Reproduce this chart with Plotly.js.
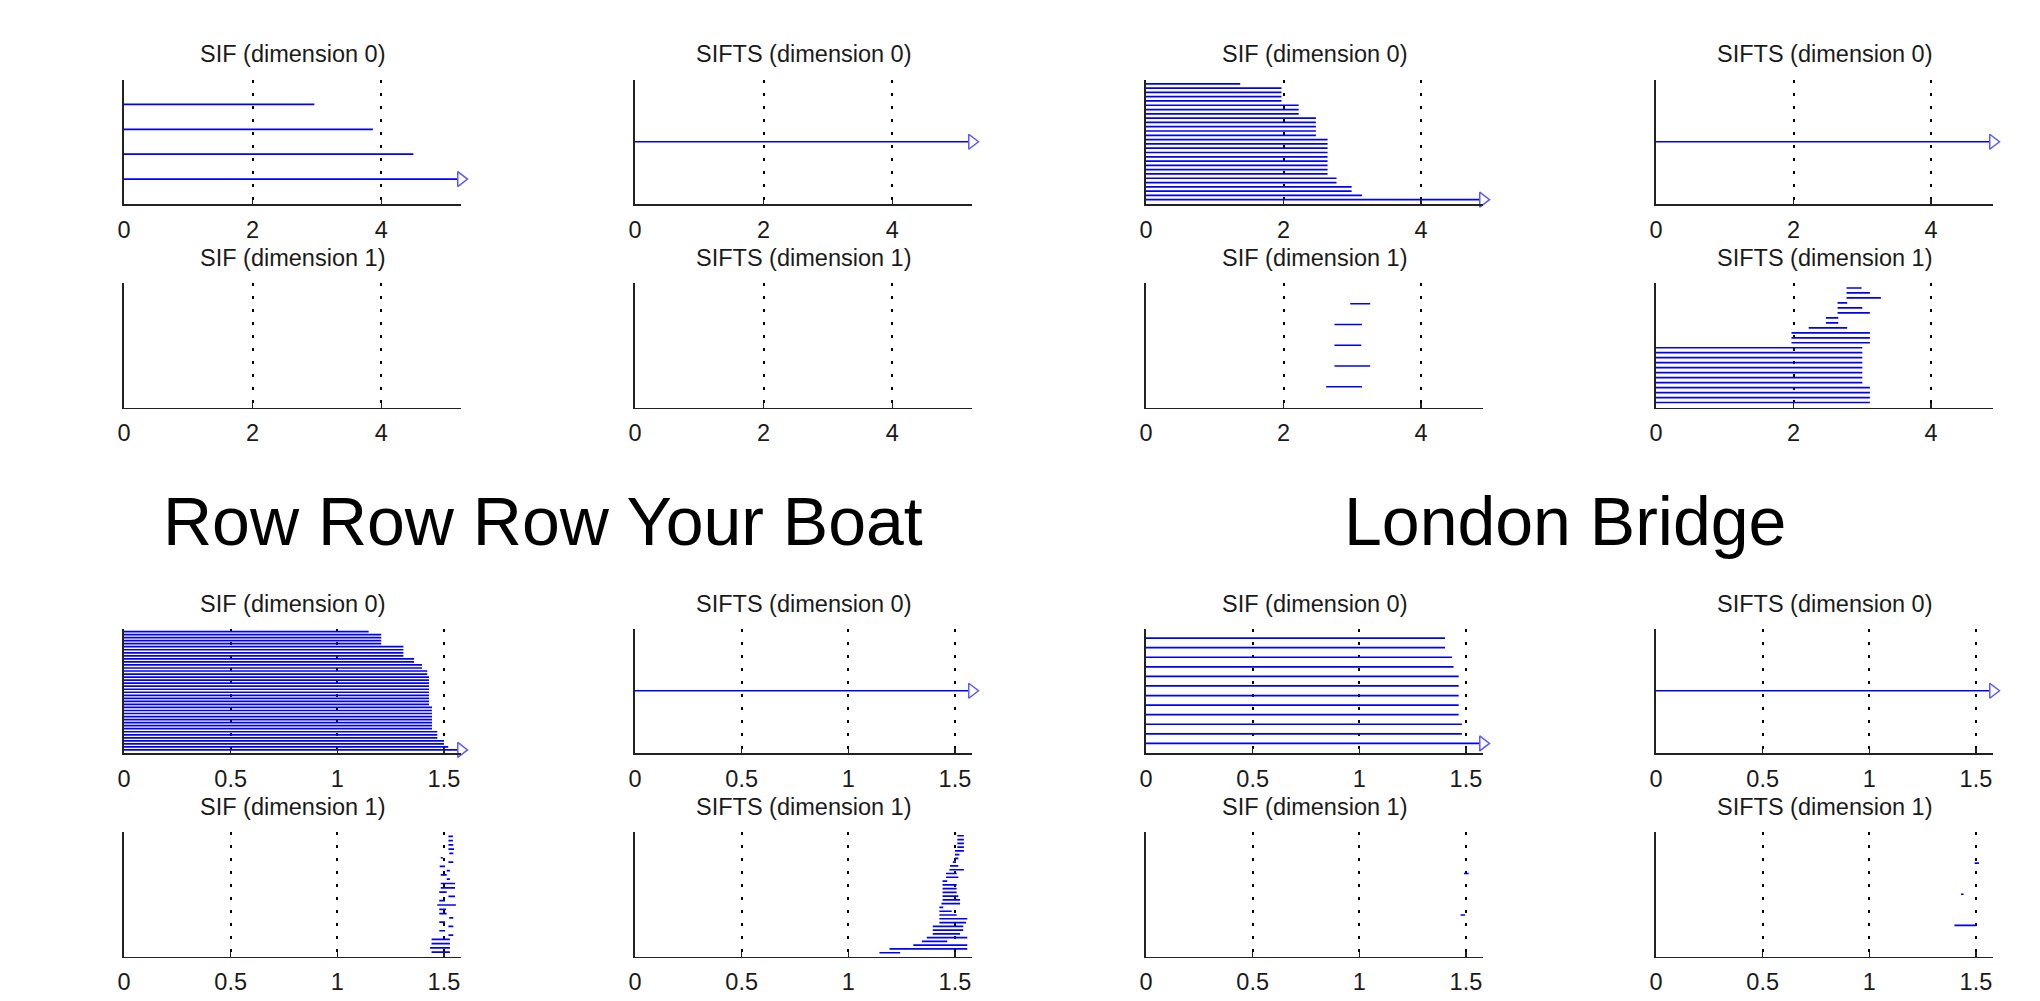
<!DOCTYPE html>
<html><head><meta charset="utf-8">
<script src="https://cdn.plot.ly/plotly-3.0.1.min.js"></script>
<style>html,body{margin:0;padding:0;background:#fff}#chart{width:2040px;height:1001px}</style>
</head><body><div id="chart"></div>
<script>
// ---------- DATA (bars listed bottom -> top; death null = infinite bar) ----------
const groupTitles = ['Row Row Row Your Boat', 'London Bridge'];
const panelTitles = ['SIF (dimension 0)', 'SIFTS (dimension 0)', 'SIF (dimension 1)', 'SIFTS (dimension 1)'];
const topTicks = [0, 2, 4];
const topTickText = ['0', '2', '4'];
const botTicks = [0, 0.5, 1, 1.5];
const botTickText = ['0', '0.5', '1', '1.5'];

// top-left group
const tlSif0Birth = [0, 0, 0, 0];
const tlSif0Death = [null, 4.50, 3.87, 2.96];
const tlSifts0Birth = [0];
const tlSifts0Death = [null];
const tlSif1Birth = [];
const tlSif1Death = [];
const tlSifts1Birth = [];
const tlSifts1Death = [];

// top-right group
const trSif0Birth = [0,0,0,0,0,0,0,0,0,0,0,0,0,0,0,0,0,0,0,0,0,0,0,0,0,0,0,0];
const trSif0Death = [null, 3.14, 2.99, 2.99, 2.77, 2.77,
  2.64, 2.64, 2.64, 2.64, 2.64, 2.64, 2.64, 2.64, 2.64,
  2.47, 2.47, 2.47, 2.47, 2.47,
  2.22, 2.22, 2.22,
  1.97, 1.97, 1.97, 1.97,
  1.37];
const trSifts0Birth = [0];
const trSifts0Death = [null];
const trSif1Birth = [2.62, 2.74, 2.74, 2.74, 2.97];
const trSif1Death = [3.14, 3.26, 3.13, 3.14, 3.26];
const trSifts1Birth = [0, 0, 0, 0, 0, 0, 0, 0, 0, 0, 0, 0,
  1.97, 1.97, 1.97, 2.22, 2.47, 2.47, 2.64, 2.64, 2.64, 2.77, 2.77, 2.77];
const trSifts1Death = [3.11, 3.11, 3.11, 3.11, 3.00, 3.00, 3.00, 3.00, 3.00, 3.00, 3.00, 3.00,
  3.11, 3.11, 3.11, 2.78, 2.65, 2.65, 3.11, 3.00, 2.78, 3.27, 3.11, 2.99];

// bottom-left group
const blSif0Birth = [0,0,0,0,0,0,0,0,0,0,0,0,0,0,0,0,0,0,0,0,0,0,0,0,0,0,0,0,0,0,0,0,0,0,0,0,0,0,0,0];
const blSif0Death = [null, 1.52, 1.50, 1.50, 1.469, 1.469, 1.469,
  1.444, 1.444, 1.444, 1.444, 1.444, 1.444, 1.444, 1.444,
  1.43, 1.43, 1.43, 1.43, 1.43, 1.43, 1.43, 1.43, 1.43, 1.43,
  1.422, 1.422, 1.397, 1.397, 1.36, 1.36,
  1.31, 1.31, 1.31, 1.31,
  1.206, 1.206, 1.206, 1.206,
  1.147];
const blSifts0Birth = [0];
const blSifts0Death = [null];
const blSif1Birth = [1.442, 1.435, 1.442, 1.442, 1.521, 1.478, 1.521, 1.478, 1.525, 1.478,
  1.478, 1.469, 1.478, 1.521, 1.478, 1.485, 1.485, 1.513, 1.485, 1.513,
  1.480, 1.521, 1.485, 1.525, 1.521, 1.521, 1.521, 1.521];
const blSif1Death = [1.528, 1.528, 1.528, 1.528, 1.544, 1.505, 1.544, 1.505, 1.544, 1.513,
  1.510, 1.556, 1.505, 1.552, 1.513, 1.552, 1.552, 1.528, 1.513, 1.528,
  1.505, 1.544, 1.495, 1.544, 1.547, 1.544, 1.542, 1.542];
const blSifts1Birth = [1.146, 1.193, 1.305, 1.345, 1.368, 1.396, 1.396, 1.396, 1.427, 1.427,
  1.427, 1.427, 1.427, 1.437, 1.442, 1.442, 1.442, 1.442, 1.442, 1.442,
  1.458, 1.458, 1.474, 1.477, 1.490, 1.500, 1.500, 1.500, 1.511, 1.511, 1.511, 1.511];
const blSifts1Death = [1.243, 1.558, 1.558, 1.464, 1.558, 1.524, 1.539, 1.539, 1.552, 1.558,
  1.508, 1.485, 1.445, 1.524, 1.524, 1.516, 1.508, 1.508, 1.508, 1.464,
  1.516, 1.508, 1.542, 1.516, 1.505, 1.516, 1.521, 1.542, 1.542, 1.542, 1.542, 1.542];

// bottom-right group
const brSif0Birth = [0,0,0,0,0,0,0,0,0,0,0,0];
const brSif0Death = [null, 1.481, 1.481, 1.466, 1.466, 1.466, 1.466, 1.466, 1.442, 1.435, 1.402, 1.402];
const brSifts0Birth = [0];
const brSifts0Death = [null];
const brSif1Birth = [1.475, 1.491];
const brSif1Death = [1.496, 1.513];
const brSifts1Birth = [1.399, 1.430, 1.494];
const brSifts1Death = [1.502, 1.442, 1.514];

// ---------- LAYOUT GEOMETRY (pixels) ----------
const W = 2040, H = 1001;
const colX = [[124, 461], [635, 972], [1146, 1483], [1656, 1993]];
const rowY = [[79.5, 204], [283, 407.5], [628.5, 753], [832, 956.5]];
const topMaxL = 5.24, topMaxR = 4.9, botMax = 1.58;

const panels = [
  {c:0, r:0, t:0, b:tlSif0Birth, d:tlSif0Death, xmax:topMaxL, top:true},
  {c:1, r:0, t:1, b:tlSifts0Birth, d:tlSifts0Death, xmax:topMaxL, top:true},
  {c:0, r:1, t:2, b:tlSif1Birth, d:tlSif1Death, xmax:topMaxL, top:true},
  {c:1, r:1, t:3, b:tlSifts1Birth, d:tlSifts1Death, xmax:topMaxL, top:true},
  {c:2, r:0, t:0, b:trSif0Birth, d:trSif0Death, xmax:topMaxR, top:true},
  {c:3, r:0, t:1, b:trSifts0Birth, d:trSifts0Death, xmax:topMaxR, top:true},
  {c:2, r:1, t:2, b:trSif1Birth, d:trSif1Death, xmax:topMaxR, top:true},
  {c:3, r:1, t:3, b:trSifts1Birth, d:trSifts1Death, xmax:topMaxR, top:true},
  {c:0, r:2, t:0, b:blSif0Birth, d:blSif0Death, xmax:botMax, top:false},
  {c:1, r:2, t:1, b:blSifts0Birth, d:blSifts0Death, xmax:botMax, top:false},
  {c:0, r:3, t:2, b:blSif1Birth, d:blSif1Death, xmax:botMax, top:false},
  {c:1, r:3, t:3, b:blSifts1Birth, d:blSifts1Death, xmax:botMax, top:false},
  {c:2, r:2, t:0, b:brSif0Birth, d:brSif0Death, xmax:botMax, top:false},
  {c:3, r:2, t:1, b:brSifts0Birth, d:brSifts0Death, xmax:botMax, top:false},
  {c:2, r:3, t:2, b:brSif1Birth, d:brSif1Death, xmax:botMax, top:false},
  {c:3, r:3, t:3, b:brSifts1Birth, d:brSifts1Death, xmax:botMax, top:false}
];

const FONT = 'Liberation Sans, Arial, Helvetica, sans-serif';
const TXT = '#1a1a1a';
const AX = '#222222';
const data = [];
const layout = {
  width: W, height: H,
  margin: {l: 0, r: 0, t: 0, b: 0},
  paper_bgcolor: '#ffffff', plot_bgcolor: '#ffffff',
  showlegend: false, hovermode: false,
  font: {family: FONT, color: TXT, size: 23.5},
  annotations: []
};
const px2x = p => p / W;
const px2y = p => 1 - p / H;

panels.forEach((p, i) => {
  const k = i + 1;
  const xs = [], ys = [], mx = [], my = [];
  p.b.forEach((b, j) => {
    const y = j + 1;
    const e = (p.d[j] === null) ? p.xmax : p.d[j];
    xs.push(b, e, null); ys.push(y, y, null);
    if (p.d[j] === null) { mx.push(p.xmax); my.push(y); }
  });
  const xa = 'x' + (k === 1 ? '' : k), ya = 'y' + (k === 1 ? '' : k);
  data.push({type: 'scatter', mode: 'lines', x: xs, y: ys, xaxis: xa, yaxis: ya,
    line: {color: '#0000ff', width: 1.7}, connectgaps: false, hoverinfo: 'skip'});
  if (mx.length) {
    data.push({type: 'scatter', mode: 'markers', x: mx, y: my, xaxis: xa, yaxis: ya,
      cliponaxis: false,
      marker: {symbol: 'triangle-right', size: 13, color: '#ffffff',
               line: {color: 'rgb(90,90,255)', width: 1.5}}});
  }
  const xr = colX[p.c], yr = rowY[p.r];
  const n = p.b.length;
  layout['xaxis' + (k === 1 ? '' : k)] = {
    domain: [px2x(xr[0]), px2x(xr[1])],
    anchor: ya,
    range: [0, p.xmax],
    tickmode: 'array',
    tickvals: p.top ? topTicks : botTicks,
    ticktext: p.top ? topTickText : botTickText,
    ticks: 'inside', ticklen: 5, tickwidth: 1.3, tickcolor: AX,
    ticklabelstandoff: 4,
    showline: true, linecolor: AX, linewidth: 1.7,
    showgrid: true, gridcolor: '#000000', gridwidth: 2, griddash: '3px,10px',
    zeroline: false, fixedrange: true,
    tickfont: {family: FONT, size: 23.5, color: TXT}
  };
  layout['yaxis' + (k === 1 ? '' : k)] = {
    domain: [px2y(yr[1]), px2y(yr[0])],
    anchor: xa,
    range: [0, n + 1],
    showline: true, linecolor: AX, linewidth: 1.7,
    showgrid: false, zeroline: false, ticks: '', showticklabels: false, fixedrange: true
  };
  layout.annotations.push({
    text: panelTitles[p.t], xref: 'paper', yref: 'paper',
    x: px2x((xr[0] + xr[1]) / 2), y: px2y(yr[0] - 25),
    xanchor: 'center', yanchor: 'middle', showarrow: false,
    font: {family: FONT, size: 23.5, color: TXT}
  });
});

layout.annotations.push({
  text: groupTitles[0], xref: 'paper', yref: 'paper',
  x: px2x(543), y: px2y(521), xanchor: 'center', yanchor: 'middle', showarrow: false,
  font: {family: FONT, size: 68, color: '#000000'}
});
layout.annotations.push({
  text: groupTitles[1], xref: 'paper', yref: 'paper',
  x: px2x(1565), y: px2y(521), xanchor: 'center', yanchor: 'middle', showarrow: false,
  font: {family: FONT, size: 68, color: '#000000'}
});

Plotly.newPlot('chart', data, layout, {staticPlot: true, displayModeBar: false});
</script>
</body></html>
